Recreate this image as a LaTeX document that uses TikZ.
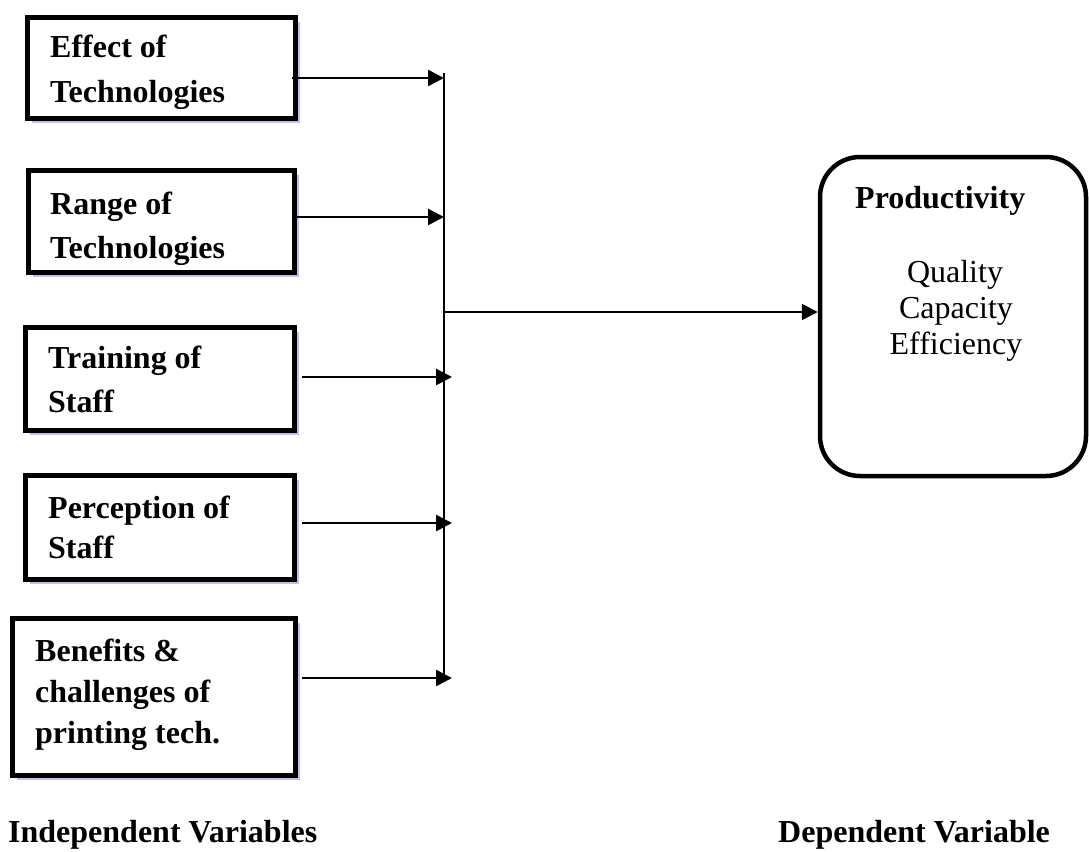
\documentclass[tikz,border=0pt]{standalone}
\usepackage{fontspec}
\setmainfont{Liberation Serif}
\usetikzlibrary{arrows.meta,shadows}
\begin{document}
\begin{tikzpicture}[x=1pt,y=-1pt,
  ivbox/.style={draw,line width=5pt,fill=white,inner sep=0pt,
    drop shadow={shadow xshift=4.5pt,shadow yshift=-4.5pt,fill=black!35!blue!25,opacity=1}},
  lbl/.style={anchor=base west,inner sep=0pt,font=\fontsize{32}{44}\selectfont\bfseries},
  plain/.style={anchor=base,inner sep=0pt,font=\fontsize{32}{36}\selectfont},
  arr/.style={line width=2.6pt,-{Triangle[length=16pt,width=16pt]}},
  prodbox/.style={draw,line width=4.5pt,rounded corners=40pt,inner sep=0pt}]
\useasboundingbox (0,0) rectangle (1089,851);

% independent variable boxes
\node[ivbox,minimum width=268pt,minimum height=101pt] (b1) at (161.5,68) {};
\node[ivbox,minimum width=266pt,minimum height=102pt] (b2) at (161.5,221.5) {};
\node[ivbox,minimum width=269pt,minimum height=103pt] (b3) at (160,379) {};
\node[ivbox,minimum width=269pt,minimum height=104pt] (b4) at (160,527.5) {};
\node[ivbox,minimum width=283pt,minimum height=157pt] (b5) at (154,697) {};

\node[lbl] (t1a) at (50,58) {Effect of};
\node[lbl] (t1b) at (50,102) {Technologies};
\node[lbl] (t2a) at (50,214) {Range of};
\node[lbl] (t2b) at (50,258) {Technologies};
\node[lbl] (t3a) at (48,368) {Training of};
\node[lbl] (t3b) at (48,412) {Staff};
\node[lbl] (t4a) at (48,518) {Perception of};
\node[lbl] (t4b) at (48,558) {Staff};
\node[lbl] (t5a) at (35,661) {Benefits \&};
\node[lbl] (t5b) at (35,702) {challenges of};
\node[lbl] (t5c) at (35,743) {printing tech.};

% dependent variable box
\node[prodbox,minimum width=266pt,minimum height=319pt] (prod) at (953,316.5) {};
\node[lbl,font=\fontsize{32}{36}\selectfont\bfseries] (pt) at (855,208) {Productivity};
\node[plain] (q1) at (955,282) {Quality};
\node[plain] (q2) at (956,318) {Capacity};
\node[plain] (q3) at (956,354) {Efficiency};

% bottom labels
\node[lbl] (iv) at (8,842) {Independent Variables};
\node[lbl] (dv) at (778,842) {Dependent Variable};

% connectors
\coordinate (vt) at (444,73);
\coordinate (vb) at (444,678);
\coordinate (jm) at (444,312);
\draw[line width=1.8pt] (vt) -- (vb);

\coordinate (s1) at (292,78);
\coordinate (s2) at (292,217);
\coordinate (s3) at (302,377);
\coordinate (s4) at (302,523);
\coordinate (s5) at (302,678);
\coordinate (e1) at (444,78);
\coordinate (e2) at (444,217);
\coordinate (e3) at (452,377);
\coordinate (e4) at (452,523);
\coordinate (e5) at (452,678);
\draw[arr] (s1) -- (e1);
\draw[arr] (s2) -- (e2);
\draw[arr] (s3) -- (e3);
\draw[arr] (s4) -- (e4);
\draw[arr] (s5) -- (e5);
\draw[arr] (jm) -- (prod.west |- jm);
\end{tikzpicture}
\end{document}
